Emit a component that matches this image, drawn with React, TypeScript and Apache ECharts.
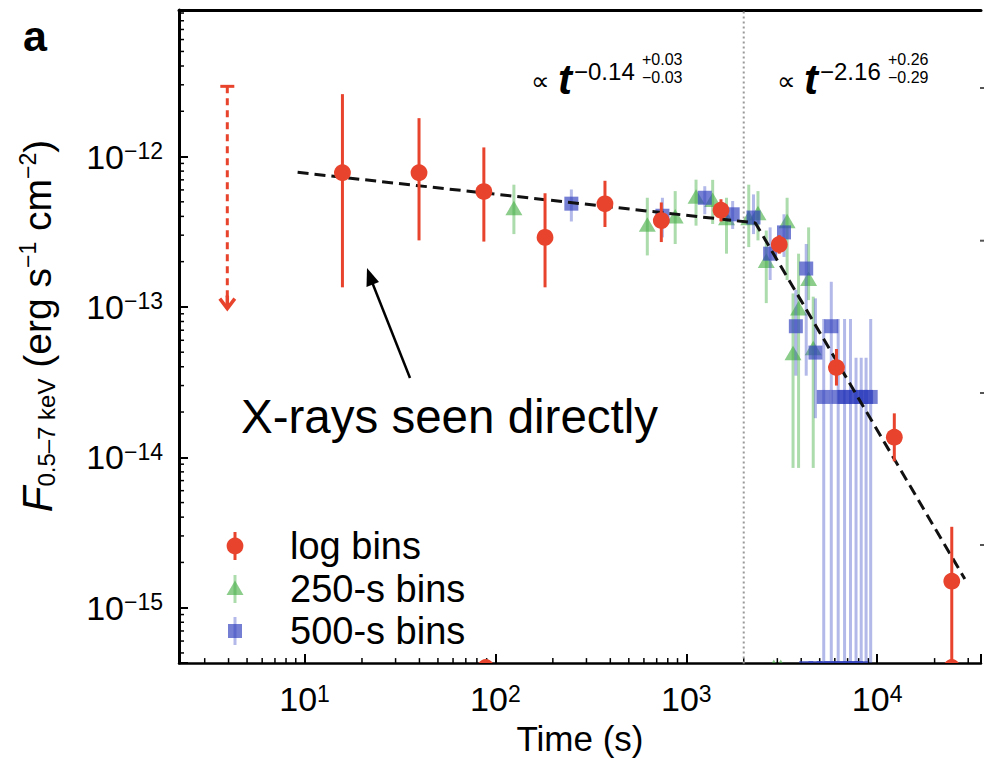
import React, { useEffect, useRef } from 'react';
import * as echarts from 'echarts';

const FONT = '"Liberation Sans", Arial, Helvetica, sans-serif';
const RED = '#E8432C';
const GREEN_MARK = 'rgba(70,175,70,0.62)';
const GREEN_BAR = 'rgba(70,175,70,0.45)';
const BLUE_MARK = 'rgba(50,65,190,0.68)';
const BLUE_BAR = 'rgba(55,70,195,0.38)';

// axis ranges
const X_MIN = 2.2;
const X_MAX = 35000;
const Y_MIN = 4.28e-16;
const Y_MAX = 9.43e-12;
const FLUX_UNIT = 1e-16; // plotted value = flux / FLUX_UNIT

// log bins (red circles)
const logTimes = [15.8, 39.8, 87, 182, 375, 740, 1520, 3070, 6120, 12300, 24600];
const logFlux = [7.8e-13, 7.8e-13, 5.85e-13, 2.9e-13, 4.85e-13, 3.75e-13, 4.4e-13, 2.6e-13, 3.95e-14, 1.36e-14, 1.5e-15];
const logLow = [1.35e-13, 2.77e-13, 2.72e-13, 1.35e-13, 3.4e-13, 2.7e-13, 3.7e-13, 2.26e-13, 3.0e-14, 9.4e-15, 1e-16];
const logHigh = [2.6e-12, 1.8e-12, 1.15e-12, 5.7e-13, 6.9e-13, 4.95e-13, 5.2e-13, 3.0e-13, 5.25e-14, 1.96e-14, 3.45e-15];
const logBelowTimes = [89, 24600];
const logBelowFlux = [4.0e-16, 4.0e-16];
// upper limit (red dashed arrow)
const ulTime = 3.94;
const ulTop = 2.93e-12;
const ulTip = 9.6e-14;

// 250-s bins (green triangles)
const g250Times = [125, 625, 875, 1125, 1375, 1625, 2125, 2375, 2625, 3375, 3625, 3875, 4375, 4625];
const g250Flux = [4.46e-13, 3.47e-13, 3.93e-13, 5.32e-13, 5.06e-13, 3.83e-13, 3.83e-13, 4.13e-13, 1.99e-13, 3.65e-13, 4.85e-14, 9.6e-14, 1.51e-13, 5.24e-14];
const g250Low = [3.05e-13, 2.2e-13, 2.62e-13, 3.47e-13, 3.56e-13, 2.26e-13, 2.5e-13, 2.77e-13, 1.06e-13, 1.51e-13, 8.5e-15, 8.5e-15, 1.11e-13, 8.5e-15];
const g250High = [6.5e-13, 5.32e-13, 5.89e-13, 7.02e-13, 7.0e-13, 5.32e-13, 6.5e-13, 5.89e-13, 3.22e-13, 5.32e-13, 1.23e-13, 2.26e-13, 3.38e-13, 1.17e-13];
const g250BelowTimes = [2875, 3125];
const g250BelowFlux = [3.97e-16, 3.97e-16];

// 500-s bins (blue squares)
const b500Times = [250, 750, 1250, 1750, 2250, 2750, 3250, 3750, 4250, 4750, 5250, 5750, 6250, 6750, 7250, 7750, 8250, 8750, 9250];
const b500Flux = [4.86e-13, 4.04e-13, 5.32e-13, 4.13e-13, 3.93e-13, 2.26e-13, 3.13e-13, 7.44e-14, 1.8e-13, 4.97e-14, 2.52e-14, 7.44e-14, 2.52e-14, 2.52e-14, 2.52e-14, 2.52e-14, 2.52e-14, 2.52e-14, 2.52e-14];
const b500Low = [3.7e-13, 2.9e-13, 4.13e-13, 3.3e-13, 3.05e-13, 1.51e-13, 2.15e-13, 3.49e-14, 3.49e-14, 1.82e-14, 1e-16, 1e-16, 1e-16, 1e-16, 1e-16, 1e-16, 1e-16, 1e-16, 1e-16];
const b500High = [6.04e-13, 5.32e-13, 6.35e-13, 5.06e-13, 5.6e-13, 3.38e-13, 4.13e-13, 1.3e-13, 2.62e-13, 1.14e-13, 8.3e-14, 1.47e-13, 8.3e-14, 8.3e-14, 8.3e-14, 4.6e-14, 4.6e-14, 4.6e-14, 8.3e-14];
const b500BelowTimes = [4250, 4750, 5250, 5750, 6250, 6750, 7250, 7750, 8250];
const b500BelowFlux = [3.97e-16, 3.97e-16, 3.97e-16, 3.97e-16, 3.97e-16, 3.97e-16, 3.97e-16, 3.97e-16, 3.97e-16];

// broken power-law fit (dashed)
const fitTimes = [9.2, 2300, 28800];
const fitFlux = [7.85e-13, 3.62e-13, 1.55e-15];
// break time (dotted vertical)
const breakTime = 2000;

// axis tick decades
const xDecades = [1, 10, 100, 1000, 10000];
const yDecades = [1e-16, 1e-15, 1e-14, 1e-13, 1e-12];

const S = (f: number) => f / FLUX_UNIT;

function marker(kind: string, x: number, y: number): any {
  if (kind === 'circle') {
    return { type: 'circle', shape: { cx: x, cy: y, r: 8.4 }, style: { fill: RED } };
  }
  if (kind === 'triangle') {
    return {
      type: 'polygon',
      shape: { points: [[x, y - 8.5], [x - 8.5, y + 6], [x + 8.5, y + 6]] },
      style: { fill: GREEN_MARK },
    };
  }
  return { type: 'rect', shape: { x: x - 7, y: y - 7, width: 14, height: 14 }, style: { fill: BLUE_MARK } };
}

function barColor(kind: string) {
  return kind === 'circle' ? RED : kind === 'triangle' ? GREEN_BAR : BLUE_BAR;
}

function pointsRender(kind: string) {
  return (params: any, api: any) => {
    const t = api.value(0);
    const f = api.value(1);
    const lo = api.value(2);
    const hi = api.value(3);
    const c = api.coord([t, f]);
    const children: any[] = [];
    if (hi > lo) {
      const a = api.coord([t, hi]);
      const b = api.coord([t, lo]);
      children.push({
        type: 'line',
        shape: { x1: c[0], y1: a[1], x2: c[0], y2: b[1] },
        style: { stroke: barColor(kind), lineWidth: 3 },
      });
    }
    children.push(marker(kind, c[0], c[1]));
    return { type: 'group', children };
  };
}

function buildData(times: number[], flux: number[], low?: number[], high?: number[]) {
  return times.map((t, i) => [t, S(flux[i]), S(low ? low[i] : flux[i]), S(high ? high[i] : flux[i])]);
}

function minorList(decades: number[], lo: number, hi: number) {
  const out: number[] = [];
  decades.forEach((d) => {
    for (let m = 2; m <= 9; m++) {
      const v = m * d;
      if (v > lo && v < hi) out.push(v);
    }
  });
  return out;
}

function supLabel(exp: number) {
  const s = exp < 0 ? '\u2212' + Math.abs(exp) : String(exp);
  return `{b|10}{s|${s}}`;
}

export default function App() {
  const ref = useRef<HTMLDivElement>(null);

  useEffect(() => {
    document.body.style.margin = '0';
    if (!ref.current) return;
    const chart = echarts.init(ref.current, undefined, { renderer: 'svg' });

    const labelRich = {
      b: { fontSize: 34, fontFamily: FONT, color: '#000' },
      s: { fontSize: 23, fontFamily: FONT, color: '#000', verticalAlign: 'top' },
    };

    const xMinor = minorList(xDecades, X_MIN, X_MAX);
    const yMinor = minorList(yDecades, Y_MIN, Y_MAX).map(S);

    const legendRows = [
      { kind: 'circle', text: 'log bins', y: 546 },
      { kind: 'triangle', text: '250-s bins', y: 589 },
      { kind: 'square', text: '500-s bins', y: 631 },
    ];
    const legendGraphics: any[] = [];
    legendRows.forEach((r) => {
      legendGraphics.push({
        type: 'line',
        shape: { x1: 235, y1: r.y - 14, x2: 235, y2: r.y + 14 },
        style: { stroke: barColor(r.kind), lineWidth: 3 },
        z: 100,
      });
      legendGraphics.push({ ...marker(r.kind, 235, r.y), z: 101 });
      legendGraphics.push({
        type: 'text',
        x: 290,
        y: r.y,
        style: { text: r.text, fontSize: 38, fontFamily: FONT, fill: '#000', align: 'left', verticalAlign: 'middle' },
        z: 101,
      });
    });

    const formula = (x0: number, exp: string, up: string, dn: string): any[] => [
      { type: 'text', x: x0, y: 81, style: { text: '\u221D', fontSize: 26, fontFamily: FONT, fill: '#000', align: 'left', verticalAlign: 'middle' } },
      { type: 'text', x: x0 + 27, y: 79, style: { text: 't', fontSize: 42, fontStyle: 'italic', fontWeight: 'bold', fontFamily: FONT, fill: '#000', align: 'left', verticalAlign: 'middle' } },
      { type: 'text', x: x0 + 43, y: 71, style: { text: exp, fontSize: 24, fontFamily: FONT, fill: '#000', align: 'left', verticalAlign: 'middle' } },
      { type: 'text', x: x0 + 111, y: 59, style: { text: up, fontSize: 16, fontFamily: FONT, fill: '#000', align: 'left', verticalAlign: 'middle' } },
      { type: 'text', x: x0 + 111, y: 77.5, style: { text: dn, fontSize: 16, fontFamily: FONT, fill: '#000', align: 'left', verticalAlign: 'middle' } },
    ];

    const option: any = {
      animation: false,
      backgroundColor: '#ffffff',
      grid: { left: 179, top: 10, right: 0, bottom: 90, containLabel: false },
      xAxis: [
        {
          type: 'log',
          logBase: 10,
          min: X_MIN,
          max: X_MAX,
          position: 'bottom',
          name: 'Time (s)',
          nameLocation: 'middle',
          nameGap: 54,
          nameTextStyle: { fontFamily: FONT, fontSize: 35, color: '#000' },
          axisLine: { show: true, onZero: false, lineStyle: { color: '#000', width: 2.5 } },
          axisTick: { show: true, inside: true, length: 9, lineStyle: { color: '#000', width: 2 } },
          axisLabel: {
            margin: 19,
            formatter: (v: number) => {
              const e = Math.log10(v);
              const r = Math.round(e);
              if (Math.abs(e - r) > 1e-6) return '';
              return supLabel(r);
            },
            rich: labelRich,
          },
          splitLine: { show: false },
        },
        {
          type: 'log',
          logBase: 10,
          min: X_MIN,
          max: X_MAX,
          position: 'top',
          axisLine: { show: true, onZero: false, lineStyle: { color: '#000', width: 3 } },
          axisTick: { show: false },
          axisLabel: { show: false },
          splitLine: { show: false },
        },
      ],
      yAxis: {
        type: 'log',
        logBase: 10,
        min: S(Y_MIN),
        max: S(Y_MAX),
        axisLine: { show: true, onZero: false, lineStyle: { color: '#000', width: 3 } },
        axisTick: { show: true, inside: true, length: 9, lineStyle: { color: '#000', width: 2 } },
        axisLabel: {
          margin: 16,
          formatter: (v: number) => {
            const e = Math.log10(v);
            const r = Math.round(e);
            if (Math.abs(e - r) > 1e-6) return '';
            return supLabel(r + Math.round(Math.log10(FLUX_UNIT)));
          },
          rich: labelRich,
        },
        splitLine: { show: false },
      },
      series: [
        {
          type: 'custom',
          name: 'xMinor',
          clip: false,
          silent: true,
          z: 1,
          data: xMinor.map((t) => [t, S(Y_MIN)]),
          encode: { x: 0, y: 1 },
          renderItem: (p: any, api: any) => {
            const c = api.coord([api.value(0), api.value(1)]);
            return { type: 'line', shape: { x1: c[0], y1: c[1], x2: c[0], y2: c[1] - 5 }, style: { stroke: '#000', lineWidth: 1.5 } };
          },
        },
        {
          type: 'custom',
          name: 'yMinor',
          clip: false,
          silent: true,
          z: 1,
          data: yMinor.map((f) => [X_MIN, f]),
          encode: { x: 0, y: 1 },
          renderItem: (p: any, api: any) => {
            const c = api.coord([api.value(0), api.value(1)]);
            return { type: 'line', shape: { x1: c[0], y1: c[1], x2: c[0] + 5, y2: c[1] }, style: { stroke: '#000', lineWidth: 1.5 } };
          },
        },
        {
          type: 'line',
          name: 'break',
          data: [[breakTime, S(1e-17)], [breakTime, S(1e-10)]],
          showSymbol: false,
          symbol: 'none',
          clip: true,
          z: 1,
          lineStyle: { color: '#999', width: 2, type: [2, 3] },
        },
        {
          type: 'custom',
          name: '250-s bins',
          clip: true,
          z: 2,
          data: buildData(g250Times, g250Flux, g250Low, g250High).concat(buildData(g250BelowTimes, g250BelowFlux)),
          encode: { x: 0, y: 1 },
          renderItem: pointsRender('triangle'),
        },
        {
          type: 'custom',
          name: '500-s bins',
          clip: true,
          z: 3,
          data: buildData(b500Times, b500Flux, b500Low, b500High).concat(buildData(b500BelowTimes, b500BelowFlux)),
          encode: { x: 0, y: 1 },
          renderItem: pointsRender('square'),
        },
        {
          type: 'line',
          name: 'fit',
          data: fitTimes.map((t, i) => [t, S(fitFlux[i])]),
          symbol: 'none',
          showSymbol: false,
          z: 4,
          lineStyle: { color: '#111', width: 3, type: [11, 6] },
        },
        {
          type: 'custom',
          name: 'log bins',
          clip: true,
          z: 5,
          data: buildData(logTimes, logFlux, logLow, logHigh).concat(buildData(logBelowTimes, logBelowFlux)),
          encode: { x: 0, y: 1 },
          renderItem: pointsRender('circle'),
        },
        {
          type: 'custom',
          name: 'upper limit',
          clip: true,
          z: 5,
          data: [[ulTime, S(ulTop), S(ulTip)]],
          encode: { x: 0, y: 1 },
          renderItem: (p: any, api: any) => {
            const top = api.coord([api.value(0), api.value(1)]);
            const tip = api.coord([api.value(0), api.value(2)]);
            const x = top[0];
            return {
              type: 'group',
              children: [
                { type: 'line', shape: { x1: x - 7, y1: top[1], x2: x + 7, y2: top[1] }, style: { stroke: RED, lineWidth: 3 } },
                { type: 'line', shape: { x1: x, y1: top[1], x2: x, y2: tip[1] - 4 }, style: { stroke: RED, lineWidth: 3, lineDash: [7, 5] } },
                { type: 'polyline', shape: { points: [[x - 7.5, tip[1] - 11], [x, tip[1] - 1], [x + 7.5, tip[1] - 11]] }, style: { stroke: RED, lineWidth: 3.5, fill: null } },
                { type: 'line', shape: { x1: x, y1: tip[1] - 14, x2: x, y2: tip[1] - 1 }, style: { stroke: RED, lineWidth: 3.5 } },
              ],
            };
          },
        },
      ],
      graphic: [
        {
          type: 'text',
          x: 23,
          y: 36,
          style: { text: 'a', fontSize: 43, fontWeight: 'bold', fontFamily: FONT, fill: '#000', align: 'left', verticalAlign: 'middle' },
        },
        ...formula(531, '\u22120.14', '+0.03', '\u22120.03'),
        ...formula(777, '\u22122.16', '+0.26', '\u22120.29'),
        {
          type: 'text',
          x: 37,
          y: 326,
          rotation: Math.PI / 2,
          style: {
            text: '{f|F}{sub|0.5\u20137 keV}{m| (erg s}{sup|\u22121}{m| cm}{sup|\u22122}{m|)}',
            align: 'center',
            verticalAlign: 'middle',
            fill: '#000',
            rich: {
              f: { fontSize: 42, fontStyle: 'italic', fontFamily: FONT, fill: '#000' },
              sub: { fontSize: 24, fontFamily: FONT, fill: '#000', verticalAlign: 'bottom' },
              m: { fontSize: 39, fontFamily: FONT, fill: '#000' },
              sup: { fontSize: 23, fontFamily: FONT, fill: '#000', verticalAlign: 'top' },
            },
          },
        },
        {
          type: 'text',
          x: 241,
          y: 416,
          style: { text: 'X-rays seen directly', fontSize: 47.5, fontFamily: FONT, fill: '#000', align: 'left', verticalAlign: 'middle' },
          z: 100,
        },
        {
          type: 'line',
          shape: { x1: 410, y1: 378, x2: 372, y2: 282 },
          style: { stroke: '#000', lineWidth: 2.5 },
          z: 100,
        },
        {
          type: 'polygon',
          shape: { points: [[367, 268], [379, 282], [366.5, 287]] },
          style: { fill: '#000' },
          z: 100,
        },
        ...[88, 240.7, 393, 545].map((y) => ({
          type: 'line',
          shape: { x1: 980, y1: y, x2: 984, y2: y },
          style: { stroke: '#555', lineWidth: 2 },
        })),
        ...legendGraphics,
      ],
    };

    chart.setOption(option);
    return () => {
      chart.dispose();
    };
  }, []);

  return <div ref={ref} style={{ position: 'fixed', left: 0, top: 0, width: 984, height: 761, background: '#fff' }} />;
}
